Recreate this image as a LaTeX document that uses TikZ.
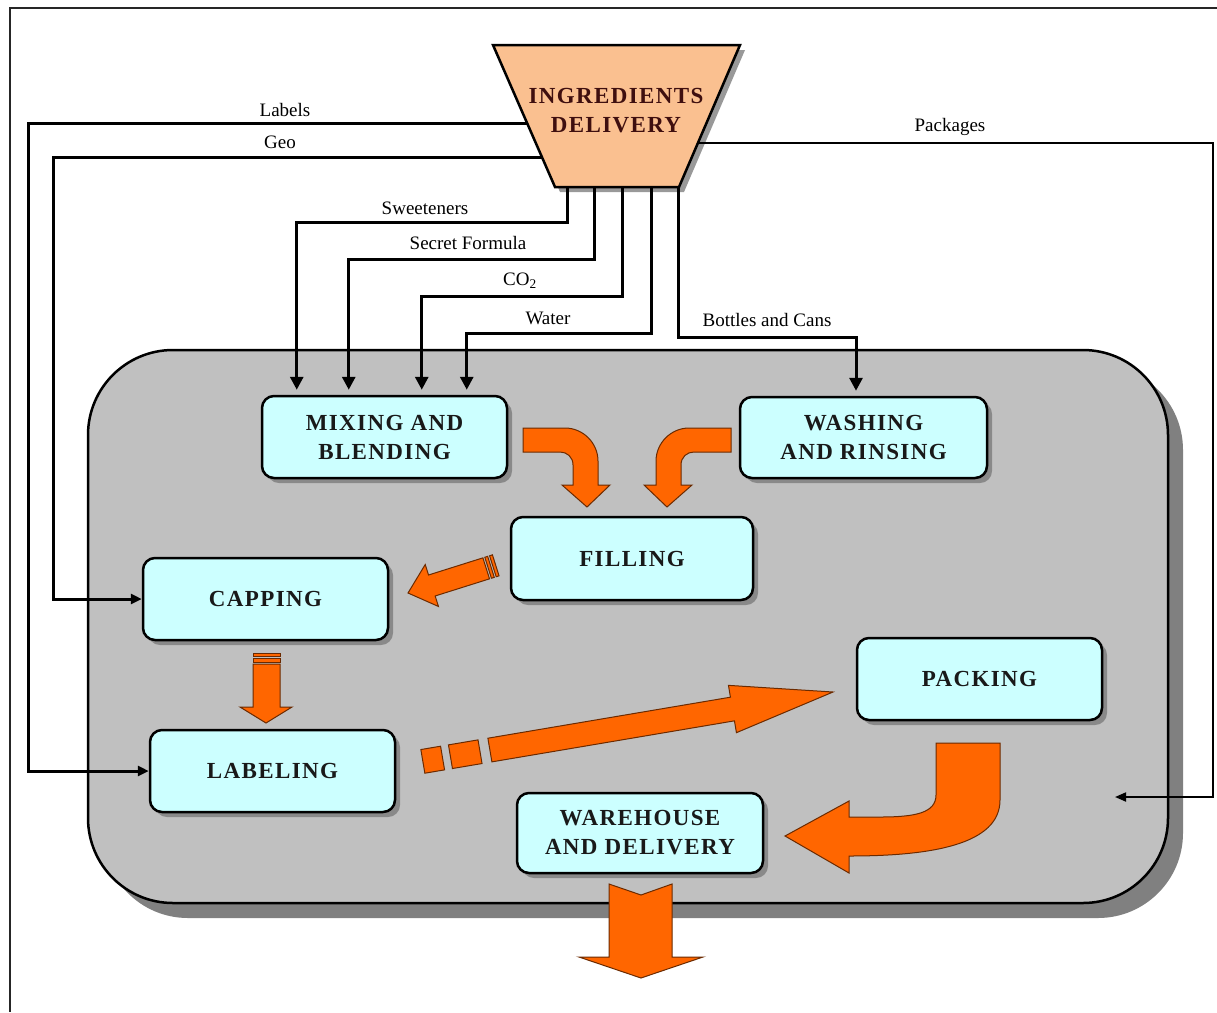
\documentclass[tikz,border=0pt]{standalone}
\usepackage{fontspec}
\setmainfont{Liberation Serif}
\newfontfamily\boxfont[LetterSpace=6]{Liberation Serif}
\usetikzlibrary{arrows.meta,shadows,calc}
\definecolor{boxcyan}{HTML}{CCFFFF}
\definecolor{plantgray}{HTML}{C0C0C0}
\definecolor{plantshadow}{HTML}{808080}
\definecolor{peach}{HTML}{FAC090}
\definecolor{orng}{HTML}{FF6600}
\definecolor{orngdark}{HTML}{6B2A00}
\definecolor{maroon}{HTML}{3F0F0F}
\begin{document}
\begin{tikzpicture}[x=1pt,y=-1pt,
  box/.style={draw=black, line width=2.5pt, rounded corners=12pt, fill=boxcyan,
    align=center, inner sep=0pt, text=black!90,
    font=\boxfont\bfseries\fontsize{23}{29}\selectfont,
    drop shadow={shadow xshift=5pt, shadow yshift=-5pt, fill=black!55, opacity=.7}},
  lbl/.style={font=\fontsize{19}{19}\selectfont, inner sep=0pt},
  inp/.style={line width=3pt, -{Triangle[length=13pt,width=13pt]}, shorten >=5pt},
  side/.style={line width=3pt, -{Triangle[length=11pt,width=10pt]}},
  pk/.style={line width=1.8pt, -{Triangle[length=11pt,width=9pt]}},
  oarrow/.style={fill=orng, draw=orngdark, line width=1pt, line join=miter},
  frame/.style={line width=2pt, draw=black!85}
]
\useasboundingbox (0,0) rectangle (1217,1012);
\fill[white] (0,0) rectangle (1217,1012);
% page frame
\draw[frame] (1217,8) -- (10,8) -- (10,1012);

% plant area
\fill[plantshadow, rounded corners=85pt] (103,365) rectangle (1183,918);
\draw[fill=plantgray, line width=2.5pt, rounded corners=85pt] (88,350) rectangle (1168,903);

% ingredients delivery trapezoid
\fill[black!40] (498,50) -- (745,50) -- (684,192) -- (560,192) -- cycle;
\draw[fill=peach, line width=2.5pt, line join=miter] (493,45) -- (740,45) -- (679,187) -- (555,187) -- cycle;
\node[align=center, text=maroon, inner sep=0pt, font=\boxfont\bfseries\fontsize{23}{29}\selectfont] (ing) at (616,111) {INGREDIENTS\\DELIVERY};
\coordinate (lblS) at (527,123);
\coordinate (geoS) at (542,157);
\coordinate (pkgS) at (698,143);
\coordinate (swS) at (567,187);
\coordinate (sfS) at (594,187);
\coordinate (co2S) at (622,187);
\coordinate (waS) at (651,187);
\coordinate (bcS) at (678,187);
\coordinate (pkgE) at (1115,797);

% process boxes
\node[box, minimum width=245pt, minimum height=82pt] (mix) at (384.5,437) {MIXING AND\\BLENDING};
\node[box, minimum width=247pt, minimum height=81pt] (wash) at (863.5,437.5) {WASHING\\AND RINSING};
\node[box, minimum width=242pt, minimum height=83pt] (fill) at (632,558.5) {FILLING};
\node[box, minimum width=245pt, minimum height=82pt] (cap) at (265.5,599) {CAPPING};
\node[box, minimum width=245pt, minimum height=82pt] (pack) at (979.5,679) {PACKING};
\node[box, minimum width=245pt, minimum height=82pt] (lab) at (272.5,771) {LABELING};
\node[box, minimum width=246pt, minimum height=80pt] (ware) at (640,833) {WAREHOUSE\\AND DELIVERY};

% input connectors
\draw[inp] (swS) -- ++(0,35) -| ([xshift=36pt]mix.north west);
\draw[inp] (sfS) -- ++(0,72) -| ([xshift=88pt]mix.north west);
\draw[inp] (co2S) -- ++(0,109) -| ([xshift=161pt]mix.north west);
\draw[inp] (waS) -- ++(0,146) -| ([xshift=206pt]mix.north west);
\draw[inp] (bcS) -- ++(0,150) -| ([xshift=-7.5pt]wash.north);
\draw[side] (lblS) -- ++(-499,0) |- (lab.west);
\draw[side] (geoS) -- ++(-489,0) |- (cap.west);
\draw[pk] (pkgS) -- ++(515,0) |- (pkgE);

% labels
\node[lbl] (tLabels) at (285,110) {Labels};
\node[lbl] (tGeo) at (280,142) {Geo};
\node[lbl] (tPack) at (950,127) {Packages};
\node[lbl] (tSw) at (425,208) {Sweeteners};
\node[lbl] (tSf) at (468,243) {Secret Formula};
\node[lbl] (tCo) at (520,281) {CO\textsubscript{2}};
\node[lbl] (tWa) at (548,318) {Water};
\node[lbl] (tBc) at (767,320) {Bottles and Cans};

% orange flow arrows
% mixing -> filling
\draw[oarrow] (523,428) -- (565,428) .. controls (583,428) and (598,443) .. (598,461)
  -- (598,485) -- (610,485) -- (587,507) -- (562,485) -- (573,485) -- (573,465)
  .. controls (573,457) and (567,452) .. (560,452) -- (523,452) -- cycle;
% washing -> filling
\draw[oarrow] (731,428) -- (689,428) .. controls (671,428) and (656,443) .. (656,461)
  -- (656,485) -- (644,485) -- (667,507) -- (692,485) -- (681,485) -- (681,465)
  .. controls (681,457) and (687,452) .. (694,452) -- (731,452) -- cycle;
% filling -> capping (striped)
\begin{scope}[shift={(408,593)}, rotate=197.5]
  \draw[oarrow] (0,0) -- (-25,-22) -- (-25,-11) -- (-82,-11) -- (-82,11) -- (-25,11) -- (-25,22) -- cycle;
  \draw[oarrow] (-84,-11) rectangle (-87,11);
  \draw[oarrow] (-89,-11) rectangle (-92,11);
\end{scope}
% capping -> labeling (striped)
\draw[oarrow] (266,723) -- (240,707) -- (253,707) -- (253,664) -- (280,664) -- (280,707) -- (292,707) -- cycle;
\draw[oarrow] (253,653) rectangle (280,656);
\draw[oarrow] (253,658) rectangle (280,662);
% labeling -> packing (striped)
\begin{scope}[shift={(833,692)}, rotate=9.6]
  \draw[oarrow] (0,0) -- (-102,-24) -- (-102,-12) -- (-348,-12) -- (-348,12) -- (-102,12) -- (-102,24) -- cycle;
  \draw[oarrow] (-358,-12) rectangle (-388,12);
  \draw[oarrow] (-396,-12) rectangle (-416,12);
\end{scope}
% packing -> warehouse
\draw[oarrow] (936,743) -- (1000,743) -- (1000,800) .. controls (1000,845) and (930,856) .. (849,856)
  -- (849,873) -- (785,836) -- (849,801) -- (849,817) -- (880,817)
  .. controls (915,817) and (936,813) .. (936,795) -- cycle;
% warehouse -> out
\draw[oarrow] (609,884) -- (641,895) -- (672,884) -- (672,957) -- (703,957) -- (641,978) -- (579,957) -- (609,957) -- cycle;
\end{tikzpicture}
\end{document}
